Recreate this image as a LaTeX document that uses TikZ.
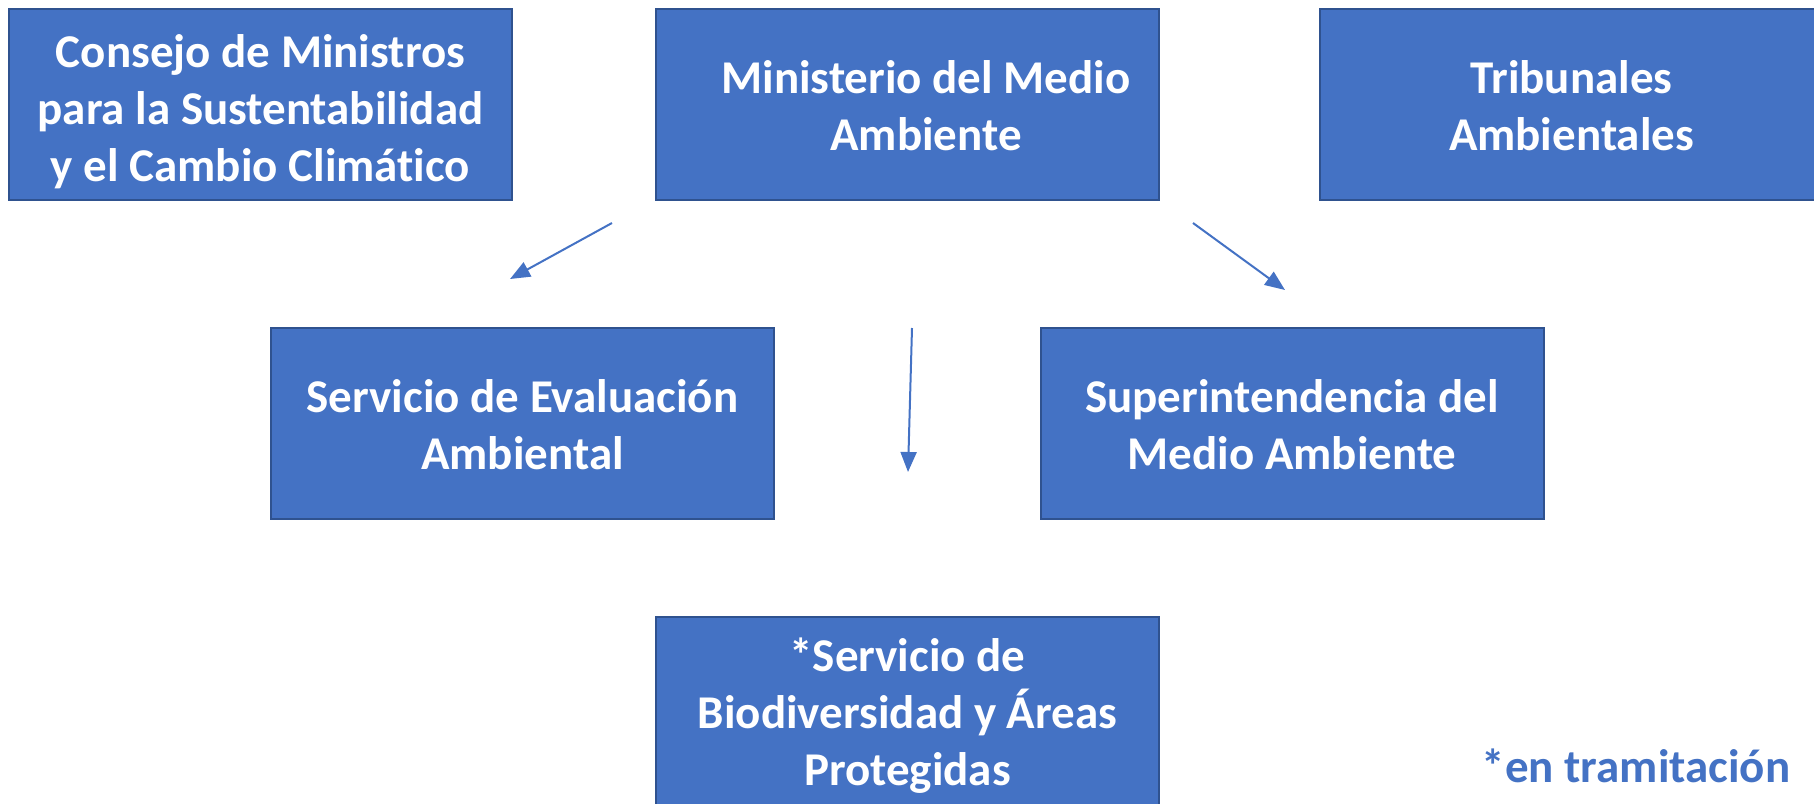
\documentclass[tikz,border=0pt]{standalone}
\usepackage{fontspec}
\setmainfont[Ligatures=NoCommon]{Carlito}
\usetikzlibrary{arrows.meta}
\definecolor{boxfill}{HTML}{4472C4}
\definecolor{boxline}{HTML}{2F528F}
\begin{document}
\begin{tikzpicture}[x=1pt,y=-1pt,
  orgbox/.style={draw=boxline, line width=2pt, fill=boxfill, text=white,
    minimum width=503pt, minimum height=191pt, inner sep=0pt,
    font=\bfseries\fontsize{47}{57}\selectfont, align=center},
  conn/.style={draw=boxfill, line width=2pt, -{Triangle[length=20pt,width=16pt]}}]
\useasboundingbox (0,0) rectangle (1814,803);
\node[orgbox] (consejo) at (260.5,104.5) {};
\node[white, font=\bfseries\fontsize{47}{57}\selectfont, align=center] (consejoT) at (260.5,112) {Consejo de Ministros\\para la Sustentabilidad\\y el Cambio Climático};
\node[orgbox] (mma) at (907.5,104.5) {};
\node[white, font=\bfseries\fontsize{47}{57}\selectfont, align=center] (mmaT) at (926,106) {Ministerio del Medio\\Ambiente};
\node[orgbox] (trib) at (1571.5,104.5) {};
\node[white, font=\bfseries\fontsize{47}{57}\selectfont, align=center] (tribT) at (1571.5,106) {Tribunales\\Ambientales};
\node[orgbox] (sea) at (522.5,423) {};
\node[white, font=\bfseries\fontsize{47}{57}\selectfont, align=center] (seaT) at (522.5,425) {Servicio de Evaluación\\Ambiental};
\node[orgbox] (sma) at (1292,423) {};
\node[white, font=\bfseries\fontsize{47}{57}\selectfont, align=center] (smaT) at (1292,425) {Superintendencia del\\Medio Ambiente};
\node[orgbox] (sbap) at (907.5,712.5) {};
\node[white, font=\bfseries\fontsize{47}{57}\selectfont, align=center] (sbapT) at (907.5,716) {*Servicio de\\Biodiversidad y Áreas\\Protegidas};
\node[text=boxfill, font=\bfseries\fontsize{47}{57}\selectfont] (nota) at (1636,766) {*en tramitación};
\coordinate (a1s) at (612,223);
\coordinate (a1e) at (510,279);
\coordinate (a2s) at (1193,223);
\coordinate (a2e) at (1285,290);
\coordinate (a3s) at (912,328);
\coordinate (a3e) at (908,472);
\draw[conn] (a1s) -- (a1e);
\draw[conn] (a2s) -- (a2e);
\draw[conn] (a3s) -- (a3e);
\end{tikzpicture}
\end{document}
